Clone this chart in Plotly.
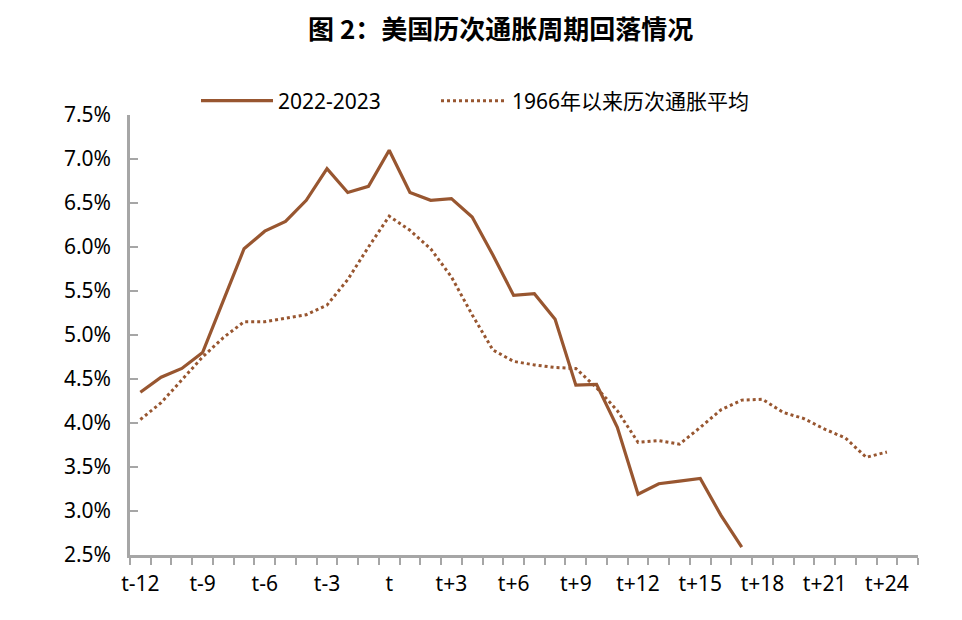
import plotly.graph_objects as go

# Categories (months relative to peak t)
offsets = list(range(-12, 26))
tick_offsets = [-12, -9, -6, -3, 0, 3, 6, 9, 12, 15, 18, 21, 24]
tick_labels = ["t-12", "t-9", "t-6", "t-3", "t", "t+3", "t+6", "t+9",
               "t+12", "t+15", "t+18", "t+21", "t+24"]

# 2022-2023 series (t-12 .. t+17)
cpi_2022 = [4.35, 4.52, 4.62, 4.80, 5.39, 5.98, 6.18, 6.29, 6.53, 6.89, 6.62, 6.69,
            7.10, 6.62, 6.53, 6.55, 6.34, 5.91, 5.45, 5.47, 5.18, 4.43, 4.44, 3.95,
            3.19, 3.31, 3.34, 3.37, 2.95, 2.59]

# Average since 1966 (t-12 .. t+24)
cpi_avg = [4.04, 4.23, 4.49, 4.75, 4.97, 5.15, 5.15, 5.19, 5.23, 5.34, 5.63, 6.00,
           6.35, 6.19, 5.98, 5.66, 5.23, 4.83, 4.70, 4.66, 4.63, 4.62, 4.40, 4.14,
           3.78, 3.80, 3.76, 3.95, 4.15, 4.26, 4.27, 4.12, 4.05, 3.93, 3.83, 3.61, 3.67]

y_ticks = [2.5, 3.0, 3.5, 4.0, 4.5, 5.0, 5.5, 6.0, 6.5, 7.0, 7.5]
y_labels = ["2.5%", "3.0%", "3.5%", "4.0%", "4.5%", "5.0%", "5.5%", "6.0%", "6.5%", "7.0%", "7.5%"]

color = "#985630"
axis_color = "#A6A6A6"
font_fam = "Liberation Sans Narrow, Arial Narrow, Noto Sans, Noto Sans CJK SC, sans-serif"

# page has an 8px body margin; figure sized to fit the window exactly
W, H = 954, 612
L, R, T, B = 122, 44, 107, 65
pw, ph = W - L - R, H - T - B

fig = go.Figure()
fig.add_trace(go.Scatter(x=offsets[:len(cpi_2022)], y=cpi_2022, mode="lines",
                         name="2022-2023", line=dict(color=color, width=3.2),
                         legend="legend"))
fig.add_trace(go.Scatter(x=offsets[:len(cpi_avg)], y=cpi_avg, mode="lines",
                         name="1966年以来历次通胀平均",
                         line=dict(color=color, width=3, dash="dot"),
                         legend="legend2"))

leg_y = 1 + (T - 93) / ph
fig.update_layout(
    width=W, height=H,
    margin=dict(l=L, r=R, t=T, b=B, autoexpand=False),
    paper_bgcolor="white", plot_bgcolor="white",
    font=dict(family=font_fam, size=21, color="#000000"),
    showlegend=True,
    legend=dict(orientation="h", x=(188 - L) / pw, xanchor="left",
                y=leg_y, yanchor="middle",
                font=dict(size=21, family=font_fam), itemwidth=72,
                bgcolor="rgba(0,0,0,0)"),
    legend2=dict(orientation="h", x=(428 - L) / pw, xanchor="left",
                 y=leg_y, yanchor="middle",
                 font=dict(size=21, family=font_fam), itemwidth=66,
                 bgcolor="rgba(0,0,0,0)"),
    annotations=[dict(text="<b>图 2：美国历次通胀周期回落情况</b>", xref="paper", yref="paper",
                      x=(492 - L) / pw, y=1 + (T - 20) / ph, xanchor="center", yanchor="middle",
                      showarrow=False,
                      font=dict(family="Noto Sans CJK SC, sans-serif", size=26, color="#000"))],
)

minor_vals = [o - 0.5 for o in offsets] + [offsets[-1] + 0.5]
fig.update_xaxes(range=[offsets[0] - 0.5, offsets[-1] + 0.5], tickmode="array",
                 tickvals=tick_offsets, ticktext=tick_labels, ticks="", showgrid=False,
                 zeroline=False, showline=True, linecolor=axis_color, linewidth=2.5,
                 tickfont=dict(size=21), ticklabelstandoff=8, automargin=False,
                 minor=dict(tickvals=minor_vals, ticks="outside", ticklen=7,
                            tickcolor=axis_color, tickwidth=1.5, showgrid=False))
fig.update_yaxes(range=[2.5, 7.5], tickmode="array", tickvals=y_ticks, ticktext=y_labels,
                 ticks="inside", ticklen=8, tickcolor=axis_color, tickwidth=1.5,
                 showgrid=False, zeroline=False, showline=True, linecolor=axis_color,
                 linewidth=2.5, tickfont=dict(size=21), ticklabelstandoff=12,
                 automargin=False)

fig.write_html("out.html")
